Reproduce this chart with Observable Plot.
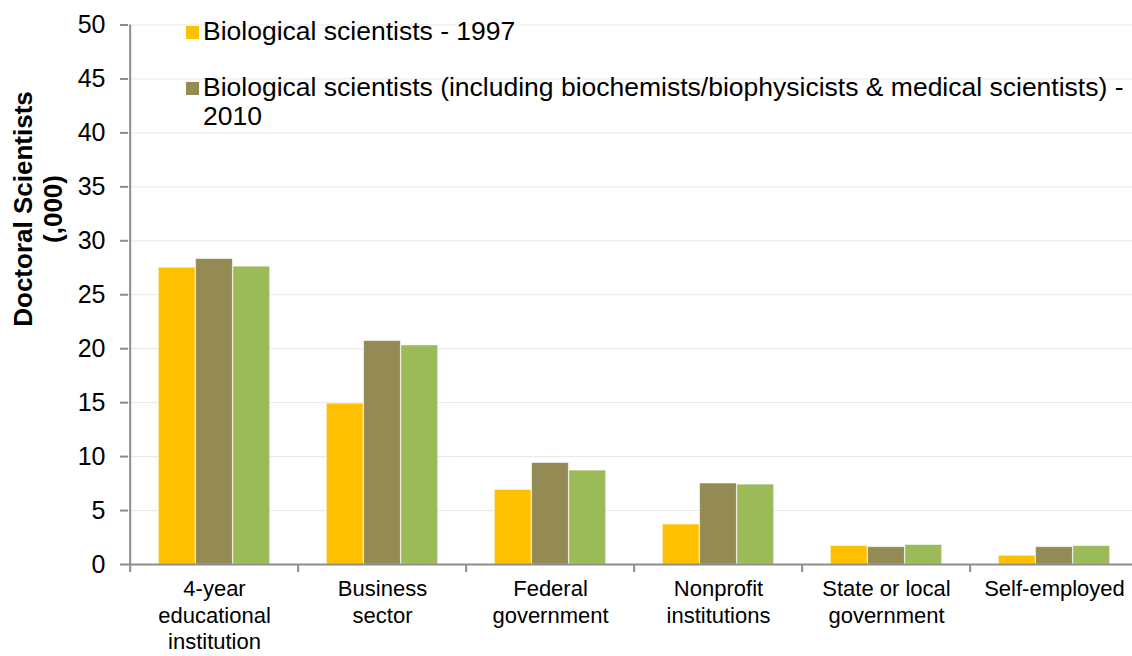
<!DOCTYPE html>
<html>
<head>
<meta charset="utf-8">
<script src="https://cdn.jsdelivr.net/npm/d3@7"></script>
<script src="https://cdn.jsdelivr.net/npm/@observablehq/plot@0.6"></script>
<style>
  html, body { margin: 0; padding: 0; background: #fff; }
  body { font-family: "Liberation Sans", Arial, sans-serif; }
  #wrap { position: relative; width: 1132px; height: 656px; overflow: hidden; }
  #legend { position: absolute; left: 186px; top: 17px; width: 946px; font-size: 26.5px; color: #000; }
  .item { display: flex; align-items: flex-start; margin-bottom: 27px; line-height: 29px; }
  .sw { width: 13px; height: 13px; flex: none; margin-top: 9px; margin-right: 4px; }
  #ytitle { position: absolute; left: 38px; top: 209px; transform: translate(-50%, -50%) rotate(-90deg);
            font-weight: bold; font-size: 26px; text-align: center; line-height: 30px; white-space: nowrap; }
</style>
</head>
<body>
<div id="wrap"></div>
<script>
const categories = ["4-year\neducational\ninstitution", "Business\nsector", "Federal\ngovernment", "Nonprofit\ninstitutions", "State or local\ngovernment", "Self-employed"];
const seriesNames = [
  "Biological scientists - 1997",
  "Biological scientists (including biochemists/biophysicists & medical scientists) - 2010",
  "Biological and medical scientists - 2010"
];
const legendNames = seriesNames.slice(0, 2);
const colors = ["#FFC000", "#948A54", "#9BBB59"];
const values1997 = [27.5, 14.9, 6.9, 3.7, 1.7, 0.8];
const values2010a = [28.3, 20.7, 9.4, 7.5, 1.6, 1.6];
const values2010b = [27.6, 20.3, 8.7, 7.4, 1.8, 1.7];
const yTicks = [0, 5, 10, 15, 20, 25, 30, 35, 40, 45, 50];
const yTitle = ["Doctoral Scientists", "(,000)"];

const seriesValues = [values1997, values2010a, values2010b];
const rows = [];
seriesValues.forEach((vals, s) => vals.forEach((v, i) => rows.push({category: categories[i], series: seriesNames[s], s, value: v})));

const step = (1140 - 128) / categories.length;
const barW = 37.3;
const inset = (step - barW) / 2;

const barMarks = seriesNames.map((name, s) =>
  Plot.barY(rows.filter(d => d.s === s), {
    x: "category", y: "value", fill: "series",
    dx: (s - 1) * barW, insetLeft: inset, insetRight: inset,
    stroke: "#ffffff", strokeOpacity: 0.5, strokeWidth: 0.8
  })
);

const chart = Plot.plot({
  width: 1132,
  height: 656,
  marginLeft: 128,
  marginRight: 0,
  marginTop: 24.5,
  marginBottom: 92,
  style: {fontFamily: "'Liberation Sans', Arial, sans-serif", color: "#000", background: "#fff"},
  x: {domain: categories, range: [128, 1140], padding: 0, label: null},
  y: {domain: [0, 50], label: null},
  color: {domain: seriesNames, range: colors},
  marks: [
    Plot.gridY(yTicks, {stroke: "#d9d9d9", strokeOpacity: 0.6, strokeWidth: 1}),
    ...barMarks,
    Plot.ruleY([0], {stroke: "#8c8c8c", strokeWidth: 2}),
    Plot.ruleX([categories[0]], {y1: 0, y2: 50, dx: -step / 2, stroke: "#8c8c8c", strokeWidth: 2}),
    Plot.ruleX(categories, {y1: 0, y2: -0.75, dx: -step / 2, stroke: "#8c8c8c", strokeWidth: 2}),
    Plot.axisY(yTicks, {tickSize: 8, tickPadding: 15, fontSize: 25, stroke: "#8c8c8c", strokeWidth: 2, label: null}),
    Plot.axisX({tickSize: 0, tickPadding: 13, fontSize: 22, lineHeight: 1.2, label: null})
  ]
});

const wrap = document.getElementById("wrap");
wrap.appendChild(chart);

const legend = document.createElement("div");
legend.id = "legend";
legendNames.forEach((name, i) => {
  const item = document.createElement("div");
  item.className = "item";
  const sw = document.createElement("span");
  sw.className = "sw";
  sw.style.background = colors[i];
  const t = document.createElement("span");
  t.textContent = name;
  item.appendChild(sw);
  item.appendChild(t);
  legend.appendChild(item);
});
wrap.appendChild(legend);

const yt = document.createElement("div");
yt.id = "ytitle";
yt.innerHTML = yTitle.map(s => s.replace(/&/g, "&amp;")).join("<br>");
wrap.appendChild(yt);
</script>
</body>
</html>
